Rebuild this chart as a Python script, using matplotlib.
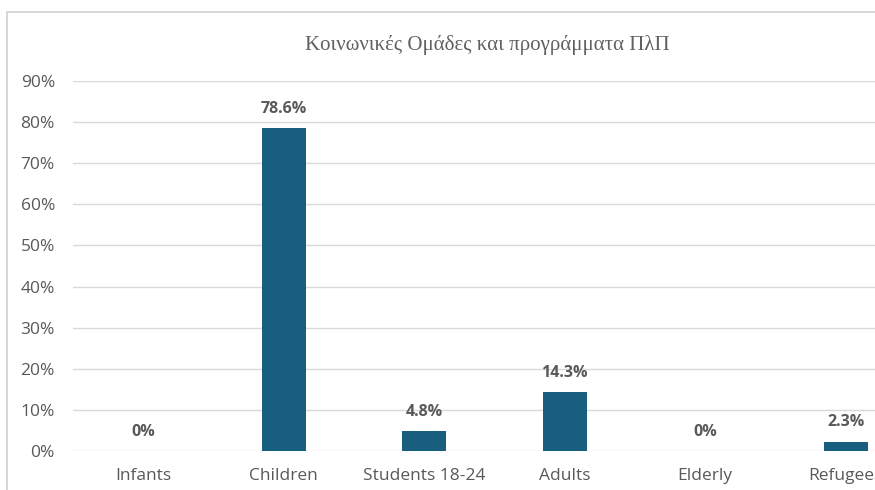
import matplotlib.pyplot as plt
from matplotlib.patches import Rectangle

categories = ['Infants', 'Children', 'Students 18-24', 'Adults', 'Elderly', 'Refugees']
values = [0.0, 0.786, 0.048, 0.143, 0.0, 0.023]
labels = ['0%', '78.6%', '4.8%', '14.3%', '0%', '2.3%']
yticks = [0, 0.1, 0.2, 0.3, 0.4, 0.5, 0.6, 0.7, 0.8, 0.9]

bar_color = '#175E7F'
text_color = '#595959'
grid_color = '#D9D9D9'

W, H = 875, 490
fig = plt.figure(figsize=(W / 100, H / 100), dpi=100)

# outer chart frame (cropped on the right and bottom)
fig.patches.append(Rectangle((7 / W, -0.1), 1.2, (H - 12) / H + 0.1,
                             transform=fig.transFigure, fill=False,
                             edgecolor='#D0D0D0', lw=1.2))

left = 73 / W
width = 843 / W
bottom = (H - 451) / H
height = (451 - 81) / H
ax = fig.add_axes([left, bottom, width, height])

x = range(len(categories))
ax.bar(x, values, width=0.31, color=bar_color, zorder=3)

for i, (v, s) in enumerate(zip(values, labels)):
    ax.annotate(s, (i, v), xytext=(0, 8), textcoords='offset points',
                ha='center', va='bottom', fontsize=11.5, fontweight='bold',
                color=text_color, family='Open Sans')

ax.set_xlim(-0.5, len(categories) - 0.5)
ax.set_ylim(0, 0.9)
ax.set_yticks(yticks)
ax.set_yticklabels([f'{int(round(t * 100))}%' for t in yticks],
                   fontsize=12.5, color=text_color, family='Open Sans')
ax.set_xticks(list(x))
ax.set_xticklabels(categories, fontsize=12.5, color=text_color, family='Open Sans')
ax.tick_params(axis='both', length=0)
ax.tick_params(axis='y', pad=13)
ax.tick_params(axis='x', pad=12)
ax.yaxis.grid(True, color=grid_color, lw=1, zorder=0)
for sp in ax.spines.values():
    sp.set_visible(False)
ax.set_facecolor('none')

fig.text(487 / W, 1 - 45 / H, 'Κοινωνικές Ομάδες και προγράμματα ΠλΠ',
         ha='center', va='center', fontsize=15, color='#606060',
         family='Liberation Serif')

fig.savefig('out.png', dpi=100)
